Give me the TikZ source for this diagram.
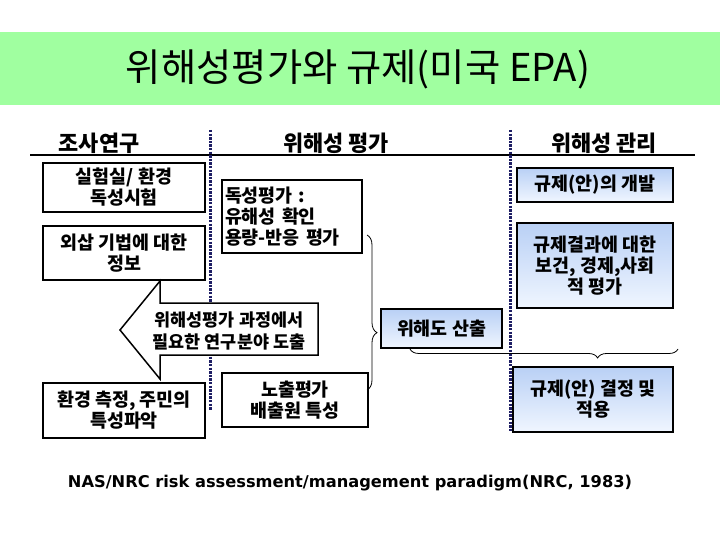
\documentclass[tikz,border=0pt]{standalone}
\usepackage{fontspec}
\setmainfont{Noto Sans CJK KR}
\newfontfamily\kr{Noto Sans CJK KR}
\newfontfamily\capfont{DejaVu Sans}
\usetikzlibrary{decorations.pathreplacing}
\definecolor{titlegreen}{RGB}{160,255,160}
\definecolor{dotnavy}{RGB}{30,30,100}
\definecolor{boxblueTop}{RGB}{185,208,245}
\definecolor{boxblueBot}{RGB}{240,246,255}
\begin{document}
\begin{tikzpicture}[x=1bp,y=-1bp,
  boxtxt/.style={font=\kr\bfseries\fontsize{18.5}{21}\selectfont},
  whitebox/.style={draw, line width=2.8bp, fill=white, align=center, inner sep=0pt, boxtxt},
  bluebox/.style={draw, line width=2.8bp, top color=boxblueTop, bottom color=boxblueBot, align=center, inner sep=0pt, boxtxt},
  header/.style={font=\kr\bfseries\fontsize{22}{24}\selectfont},
  dotline/.style={dotnavy, line width=3bp, dash pattern=on 2.4bp off 1.2bp},
  bracestyle/.style={draw, line width=0.8bp, decorate},
]
\useasboundingbox (0,0) rectangle (720,540);
\fill[white] (0,0) rectangle (720,540);
% title band
\fill[titlegreen] (0,32) rectangle (720,105);
\node[font=\kr\fontsize{38.5}{42}\selectfont] (title) at (358,69) {위해성평가와 규제(미국 EPA)};

% headers
\node[header] (h1) at (99,143) {조사연구};
\node[header] (h2) at (336,143) {위해성 평가};
\node[header] (h3) at (604,143) {위해성 관리};
\coordinate (hl1) at (30,155);
\coordinate (hl2) at (695,155);
\draw[line width=2.5bp] (hl1) -- (hl2);

% dotted separators
\coordinate (d1a) at (210,130);
\coordinate (d1b) at (210,410);
\coordinate (d2a) at (510,130);
\coordinate (d2b) at (510,432);
\draw[dotline] (d1a) -- (d1b);
\draw[dotline] (d2a) -- (d2b);

% left column
\node[whitebox, minimum width=162bp, minimum height=49bp] (b1) at (124,187.5) {실험실/ 환경\\독성시험};
\node[whitebox, minimum width=162bp, minimum height=54bp] (b2) at (124,253) {외삽 기법에 대한\\정보};
\node[whitebox, minimum width=162bp, minimum height=55bp] (b4) at (124,410.5) {환경 측정, 주민의\\특성파악};

% middle column
\node[whitebox, minimum width=140bp, minimum height=73bp, align=left, text width=134bp, inner xsep=3bp] (b3) at (292,216.5) {독성평가 :\\유해성 확인\\용량-반응 평가};
\node[whitebox, minimum width=146bp, minimum height=54bp] (b5) at (295,400) {노출평가\\배출원 특성};

% right column
\node[bluebox, minimum width=156bp, minimum height=34bp] (r1) at (595,185) {규제(안)의 개발};
\node[bluebox, minimum width=156bp, minimum height=85bp] (r2) at (595,265.5) {규제결과에 대한\\보건, 경제,사회\\적 평가};
\node[bluebox, minimum width=160bp, minimum height=65bp] (r3) at (593,399.5) {규제(안) 결정 및\\적용};

% risk characterization
\node[bluebox, minimum width=121bp, minimum height=39bp] (hz) at (441.5,328.5) {위해도 산출};

% big left arrow
\draw[line width=1.5bp, fill=white] (160,281) -- (120,330) -- (160,379) -- (160,355) -- (318,355) -- (318,303) -- (160,303) -- cycle;
\node[align=center, font=\kr\bfseries\fontsize{17.5}{22}\selectfont] (arr) at (229,331) {위해성평가 과정에서\\필요한 연구분야 도출};

% braces
\coordinate (bv1) at (367,235);
\coordinate (bv2) at (367,390);
\draw[bracestyle, decoration={brace, amplitude=10bp, aspect=0.63}] (bv1) -- (bv2);
\coordinate (bh1) at (678,349);
\coordinate (bh2) at (410,349);
\draw[bracestyle, decoration={brace, amplitude=9bp, aspect=0.30}] (bh1) -- (bh2);

% caption
\node[font=\capfont\bfseries\fontsize{16.3}{19}\selectfont] (cap) at (350,483) {NAS/NRC risk assessment/management paradigm(NRC, 1983)};
\end{tikzpicture}
\end{document}
